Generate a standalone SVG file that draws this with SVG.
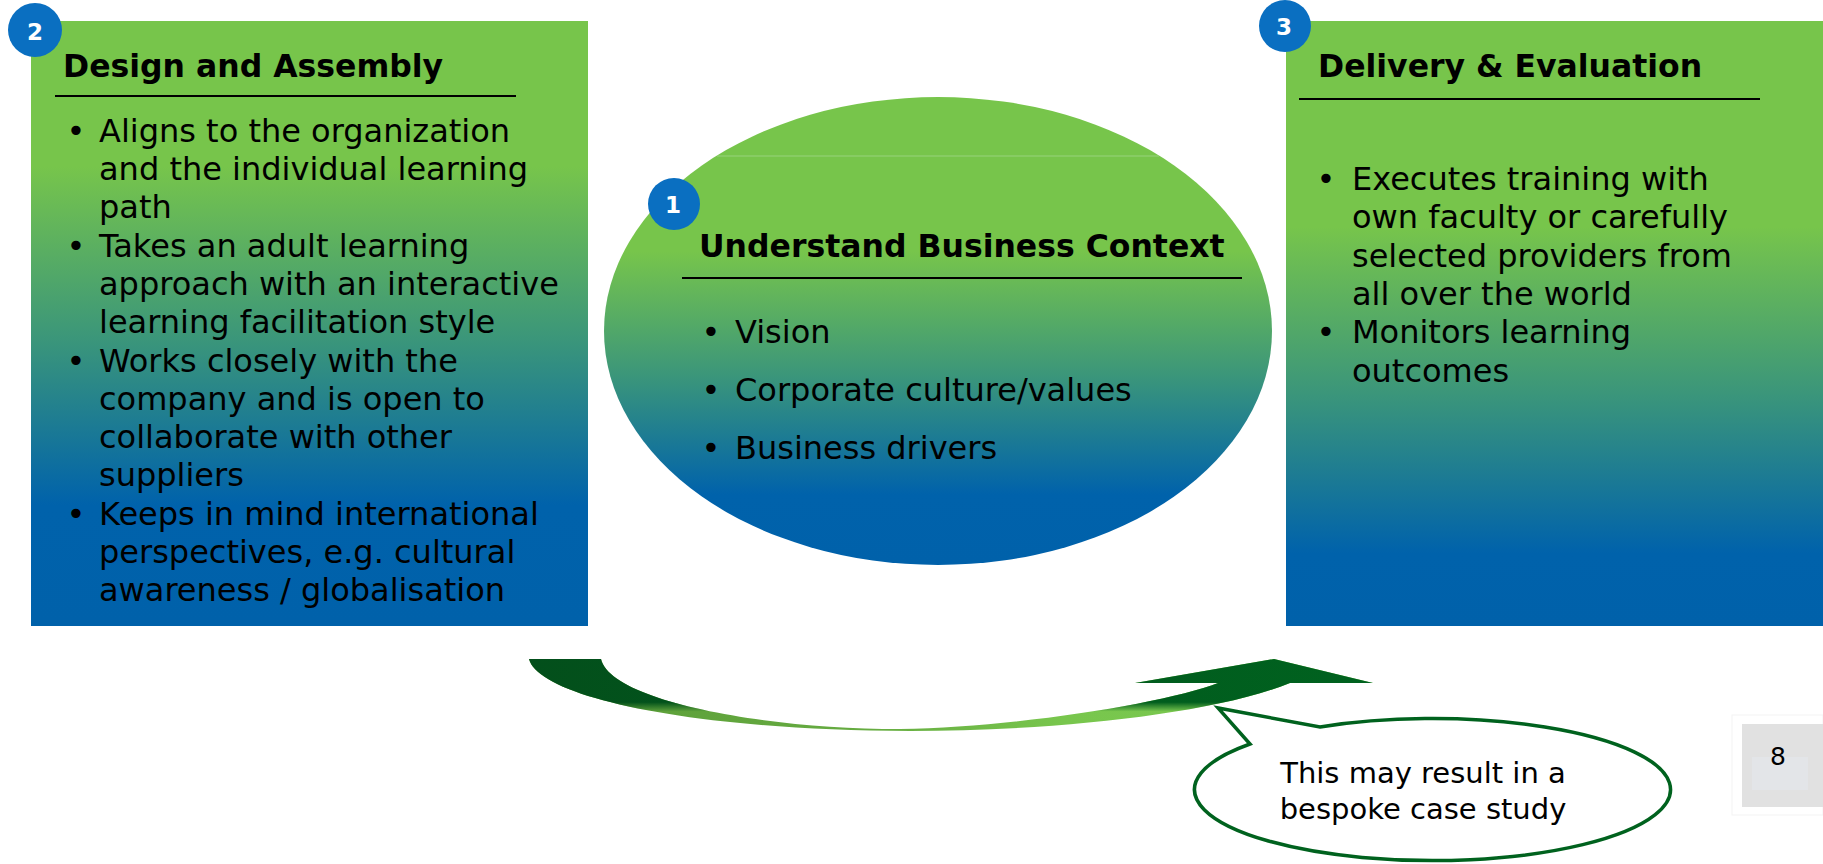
<svg xmlns="http://www.w3.org/2000/svg" width="1823" height="864" viewBox="0 0 1823 864">
<style>
text{font-family:"DejaVu Sans","Verdana",sans-serif;fill:#000}
.t{font-weight:bold;font-size:31.5px}
.b{font-size:32px}
.n{font-weight:bold;font-size:23px;fill:#fff;text-anchor:middle}
.c{font-size:29px;text-anchor:middle}
.rule{stroke:#000;stroke-width:2.2}
.badge{fill:#0A6FC1}
</style>
<defs>
<linearGradient id="gL" x1="0" y1="0" x2="0" y2="1">
<stop offset="0" stop-color="#77C54B"/><stop offset="0.24" stop-color="#77C54B"/><stop offset="0.52" stop-color="#3C9779"/><stop offset="0.8" stop-color="#0062AB"/><stop offset="1" stop-color="#0061AA"/>
</linearGradient>
<linearGradient id="gM" x1="0" y1="0" x2="0" y2="1">
<stop offset="0" stop-color="#77C54B"/><stop offset="0.33" stop-color="#77C54B"/><stop offset="0.6" stop-color="#3A957B"/><stop offset="0.85" stop-color="#0062AB"/><stop offset="1" stop-color="#0061AA"/>
</linearGradient>
<linearGradient id="gR" x1="0" y1="0" x2="0" y2="1">
<stop offset="0" stop-color="#77C54B"/><stop offset="0.34" stop-color="#77C54B"/><stop offset="0.62" stop-color="#3A957B"/><stop offset="0.88" stop-color="#0062AB"/><stop offset="1" stop-color="#0061AA"/>
</linearGradient>
<linearGradient id="gLight" gradientUnits="userSpaceOnUse" x1="529" y1="0" x2="1290" y2="0">
<stop offset="0" stop-color="#5A9B37"/><stop offset="0.45" stop-color="#66AC41"/><stop offset="0.7" stop-color="#78C64D"/><stop offset="1" stop-color="#7AC84F"/>
</linearGradient>
<linearGradient id="gDark" gradientUnits="userSpaceOnUse" x1="529" y1="0" x2="1373" y2="0">
<stop offset="0" stop-color="#034F1B"/><stop offset="1" stop-color="#00621F"/>
</linearGradient>
<linearGradient id="gMask" gradientUnits="userSpaceOnUse" x1="0" y1="659" x2="0" y2="731">
<stop offset="0" stop-color="#fff"/><stop offset="0.6" stop-color="#fff"/><stop offset="0.73" stop-color="#000"/><stop offset="1" stop-color="#000"/>
</linearGradient>
<mask id="mA" maskUnits="userSpaceOnUse" x="500" y="640" width="900" height="110">
<rect x="500" y="640" width="900" height="110" fill="url(#gMask)"/>
</mask>
<path id="arrowShape" d="M 529 659 C 538 695, 680 730, 910 731 C 1050 731, 1210 715, 1290 683 L 1373 683 L 1274 659 L 1135 683 L 1218 683 C 1170 702, 1020 727, 900 729 C 760 729, 610 700, 601 659 Z"/>
</defs>

<g id="node-design">
<rect x="31" y="21" width="557" height="605" fill="url(#gL)"/>
<circle class="badge" cx="35" cy="30" r="27"/>
<text class="n" x="35" y="40">2</text>
<text class="t" x="63" y="77">Design and Assembly</text>
<line class="rule" x1="55" y1="96" x2="516" y2="96"/>
<text class="b" x="66.5" y="141.7">•</text>
<text class="b" x="99" y="141.7">Aligns to the organization</text>
<text class="b" x="99" y="180">and the individual learning</text>
<text class="b" x="99" y="218.3">path</text>
<text class="b" x="66.5" y="256.6">•</text>
<text class="b" x="99" y="256.6">Takes an adult learning</text>
<text class="b" x="99" y="294.9">approach with an interactive</text>
<text class="b" x="99" y="333.2">learning facilitation style</text>
<text class="b" x="66.5" y="371.5">•</text>
<text class="b" x="99" y="371.5">Works closely with the</text>
<text class="b" x="99" y="409.8">company and is open to</text>
<text class="b" x="99" y="448.1">collaborate with other</text>
<text class="b" x="99" y="486.4">suppliers</text>
<text class="b" x="66.5" y="524.7">•</text>
<text class="b" x="99" y="524.7">Keeps in mind international</text>
<text class="b" x="99" y="563">perspectives, e.g. cultural</text>
<text class="b" x="99" y="601.3">awareness / globalisation</text>
</g>

<g id="node-context">
<ellipse cx="938" cy="331" rx="334" ry="234" fill="url(#gM)"/>
<line x1="717" y1="156" x2="1159" y2="156" stroke="#A6D990" stroke-width="1" opacity="0.7"/>
<circle class="badge" cx="674" cy="204" r="26"/>
<text class="n" x="673" y="213">1</text>
<text class="t" x="699" y="257">Understand Business Context</text>
<line class="rule" x1="682" y1="278" x2="1242" y2="278"/>
<text class="b" x="701.5" y="343">•</text>
<text class="b" x="735" y="343">Vision</text>
<text class="b" x="701.5" y="401">•</text>
<text class="b" x="735" y="401">Corporate culture/values</text>
<text class="b" x="701.5" y="459">•</text>
<text class="b" x="735" y="459">Business drivers</text>
</g>

<g id="node-delivery">
<rect x="1286" y="21" width="537" height="605" fill="url(#gR)"/>
<circle class="badge" cx="1285" cy="26" r="26"/>
<text class="n" x="1284" y="35">3</text>
<text class="t" x="1318" y="77">Delivery &amp; Evaluation</text>
<line class="rule" x1="1299" y1="99" x2="1760" y2="99"/>
<text class="b" x="1316.5" y="190">•</text>
<text class="b" x="1352" y="190">Executes training with</text>
<text class="b" x="1352" y="228.3">own faculty or carefully</text>
<text class="b" x="1352" y="266.6">selected providers from</text>
<text class="b" x="1352" y="304.9">all over the world</text>
<text class="b" x="1316.5" y="343.2">•</text>
<text class="b" x="1352" y="343.2">Monitors learning</text>
<text class="b" x="1352" y="381.5">outcomes</text>
</g>

<g id="connectors">
<use href="#arrowShape" fill="url(#gLight)"/>
<use href="#arrowShape" fill="url(#gDark)" mask="url(#mA)"/>
</g>

<g id="node-callout">
<path d="M 1320 727 A 238 71 0 1 1 1250 744 L 1218 708 Z" fill="#fff" stroke="#00621E" stroke-width="3.5" stroke-linejoin="miter"/>
<text class="c" x="1423" y="783">This may result in a</text>
<text class="c" x="1423" y="819">bespoke case study</text>
</g>

<g id="page-number">
<rect x="1732" y="715" width="91" height="100" fill="none" stroke="#F3F3F3" stroke-width="1"/>
<rect x="1742" y="724" width="81" height="83" fill="#E1E1E1"/>
<rect x="1752" y="757" width="56" height="33" fill="#E3E5E8"/>
<text x="1778" y="765" font-family="Liberation Sans, Arial, sans-serif" font-size="25" text-anchor="middle">8</text>
</g>
</svg>
